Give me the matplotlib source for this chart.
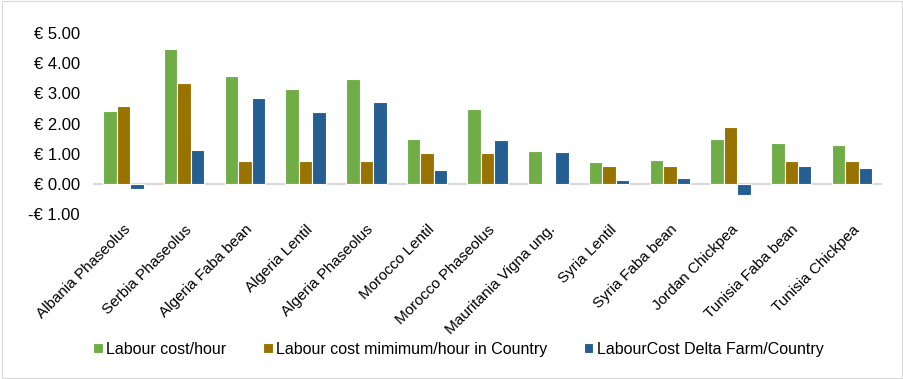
import numpy as np
import matplotlib.pyplot as plt
from matplotlib.ticker import FuncFormatter

categories = ['Albania Phaseolus', 'Serbia Phaseolus', 'Algeria Faba bean', 'Algeria Lentil',
              'Algeria Phaseolus', 'Morocco Lentil', 'Morocco Phaseolus', 'Mauritania Vigna ung.',
              'Syria Lentil', 'Syria Faba bean', 'Jordan Chickpea', 'Tunisia Faba bean',
              'Tunisia Chickpea']
labour_cost = [2.41, 4.47, 3.59, 3.13, 3.48, 1.48, 2.47, 1.09, 0.73, 0.80, 1.48, 1.37, 1.28]
min_cost = [2.59, 3.34, 0.75, 0.75, 0.75, 1.01, 1.01, 0.02, 0.58, 0.58, 1.87, 0.75, 0.75]
delta_cost = [-0.18, 1.12, 2.83, 2.37, 2.71, 0.45, 1.44, 1.05, 0.12, 0.19, -0.38, 0.61, 0.52]

series = ['Labour cost/hour', 'Labour cost mimimum/hour in Country', 'LabourCost Delta Farm/Country']
colors = ['#70AD47', '#997300', '#255E91']

plt.rcParams['font.family'] = ['Liberation Sans', 'DejaVu Sans']

fig = plt.figure(figsize=(9.04, 3.79), dpi=100)
ax = fig.add_axes([0.103, 0.435, 0.873, 0.478])

x = np.arange(len(categories))
w = 0.222
for i, (vals, name, c) in enumerate(zip([labour_cost, min_cost, delta_cost], series, colors)):
    ax.bar(x + (i - 1) * w, vals, w, color=c, edgecolor='white', linewidth=0.8, label=name)

ax.set_xlim(-0.5, len(categories) - 0.5)
ax.set_ylim(-1, 5)
ax.set_yticks(np.arange(-1, 6, 1))
ax.yaxis.set_major_formatter(FuncFormatter(lambda v, p: '-€ %.2f' % abs(v) if v < 0 else '€ %.2f' % v))
ax.axhline(0, color='#D9D9D9', linewidth=1.5, zorder=0)

ax.set_xticks(x)
ax.set_xticklabels(categories, rotation=45, ha='right', rotation_mode='anchor')
ax.tick_params(axis='both', length=0, colors='black')
ax.tick_params(axis='y', pad=9.5, labelsize=12)
ax.tick_params(axis='x', pad=6, labelsize=11)
for s in ax.spines.values():
    s.set_visible(False)

fig.legend(loc='lower center', bbox_to_anchor=(0.507, 0.02), ncol=3, frameon=False,
           fontsize=11.5, handlelength=0.6, handleheight=0.6, handletextpad=0.2, columnspacing=2.3)

fig.patches.append(plt.Rectangle((0.002, 0.002), 0.996, 0.996, transform=fig.transFigure,
                                 fill=False, edgecolor='#D9D9D9', linewidth=0.8))

plt.savefig('out.png', dpi=100)
